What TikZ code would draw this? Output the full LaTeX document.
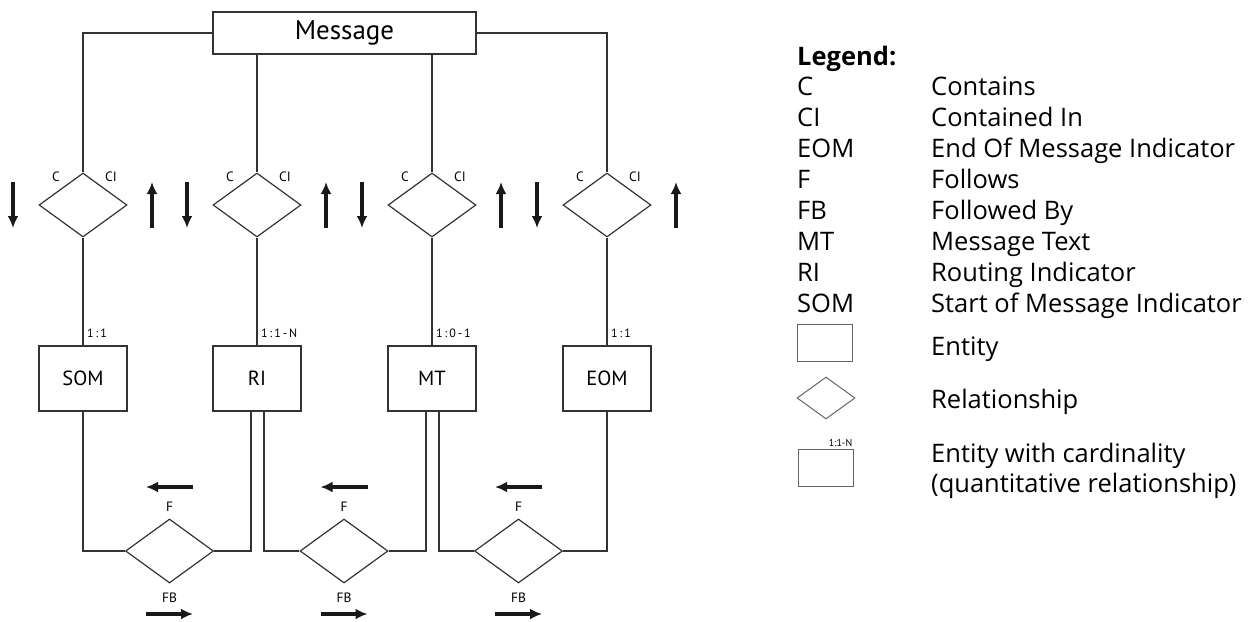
\documentclass[tikz,border=0pt]{standalone}
\usepackage{fontspec}
\setmainfont{Open Sans}
\newfontfamily\diafont{PT Sans}
\usetikzlibrary{shapes.geometric}
\usetikzlibrary{arrows.meta}

\tikzset{
    entity/.style={draw=black!80, line width=1.2pt, fill=white, minimum width=88pt, minimum height=65pt, inner sep=0pt, font=\diafont\fontsize{20.5}{24}\selectfont},
    relation/.style={draw=black!80, line width=1.2pt, diamond, minimum width=88pt, minimum height=64pt, inner sep=0pt},
    role/.style={font=\diafont\fontsize{13.5}{15}\selectfont, inner sep=0pt},
    card/.style={font=\diafont\fontsize{12}{14}\selectfont, inner sep=1pt, anchor=south west},
    bigarrow/.style={line width=3.2pt, black!90, -{Latex[length=12pt, width=11pt]}},
    key/.style={anchor=base west, inner sep=0pt, font=\fontsize{25.5}{30}\selectfont},
}

\begin{document}
\begin{tikzpicture}[x=1pt, y=-1pt]

        \useasboundingbox (0,0) rectangle (1257,621);

        \node[entity, minimum width=263pt, minimum height=42pt, font=\diafont\fontsize{27}{30}\selectfont] (msg) at (344.5,33) {Message};

        \node[entity] (som) at (83,378.5) {SOM};
        \node[entity] (ri) at (257,378.5) {RI};
        \node[entity] (mt) at (432,378.5) {MT};
        \node[entity] (eom) at (607,378.5) {EOM};

        \node[relation] (csom) at (83,205) {};
        \node[relation] (cri) at (257,205) {};
        \node[relation] (cmt) at (432,205) {};
        \node[relation] (ceom) at (607,205) {};

        \node[relation] (fsomri) at (169.5,551) {};
        \node[relation] (frimt) at (344,551) {};
        \node[relation] (fmteom) at (518.5,551) {};

        % message to the contains diamonds
        \draw[black!80, line width=1.2pt] (msg.west) -| (csom.north);
        \draw[black!80, line width=1.2pt] (msg.east) -| (ceom.north);
        \draw[black!80, line width=1.2pt] (cri.north |- msg.south) -- (cri.north);
        \draw[black!80, line width=1.2pt] (cmt.north |- msg.south) -- (cmt.north);

        \draw[black!80, line width=1.2pt] (csom.south) -- (som.north);
        \draw[black!80, line width=1.2pt] (cri.south) -- (ri.north);
        \draw[black!80, line width=1.2pt] (cmt.south) -- (mt.north);
        \draw[black!80, line width=1.2pt] (ceom.south) -- (eom.north);

        \node[card] (ksom) at ([xshift=3pt, yshift=7pt]som.north) {1\,:\,1};
        \node[card] (kri) at ([xshift=3pt, yshift=7pt]ri.north) {1\,:\,1\,-\,N};
        \node[card] (kmt) at ([xshift=3pt, yshift=7pt]mt.north) {1\,:\,0\,-\,1};
        \node[card] (keom) at ([xshift=3pt, yshift=7pt]eom.north) {1\,:\,1};

        % follows / followed by
        \draw[black!80, line width=1.2pt] (som.south) |- (fsomri.west);
        \draw[black!80, line width=1.2pt] (fsomri.east) -| ([xshift=-6pt]ri.south);
        \draw[black!80, line width=1.2pt] ([xshift=7pt]ri.south) |- (frimt.west);
        \draw[black!80, line width=1.2pt] (frimt.east) -| ([xshift=-6pt]mt.south);
        \draw[black!80, line width=1.2pt] ([xshift=7pt]mt.south) |- (fmteom.west);
        \draw[black!80, line width=1.2pt] (fmteom.east) -| (eom.south);

        \node[role] (csomc) at ([xshift=-27pt, yshift=-4pt]csom.north) {C};
        \node[role] (csomci) at ([xshift=28pt, yshift=-4pt]csom.north) {CI};
        \node[role] (cric) at ([xshift=-27pt, yshift=-4pt]cri.north) {C};
        \node[role] (crici) at ([xshift=28pt, yshift=-4pt]cri.north) {CI};
        \node[role] (cmtc) at ([xshift=-27pt, yshift=-4pt]cmt.north) {C};
        \node[role] (cmtci) at ([xshift=28pt, yshift=-4pt]cmt.north) {CI};
        \node[role] (ceomc) at ([xshift=-27pt, yshift=-4pt]ceom.north) {C};
        \node[role] (ceomci) at ([xshift=28pt, yshift=-4pt]ceom.north) {CI};

        \node[role] (fsomrif) at ([yshift=12pt]fsomri.north) {F};
        \node[role] (fsomrifb) at ([yshift=-14pt]fsomri.south) {FB};
        \node[role] (frimtf) at ([yshift=12pt]frimt.north) {F};
        \node[role] (frimtfb) at ([yshift=-14pt]frimt.south) {FB};
        \node[role] (fmteomf) at ([yshift=12pt]fmteom.north) {F};
        \node[role] (fmteomfb) at ([yshift=-14pt]fmteom.south) {FB};

        % direction arrows
        \draw[bigarrow] ([xshift=-70pt, yshift=23pt]csom.center) -- ([xshift=-70pt, yshift=-23pt]csom.center);
        \draw[bigarrow] ([xshift=69pt, yshift=-23pt]csom.center) -- ([xshift=69pt, yshift=23pt]csom.center);
        \draw[bigarrow] ([xshift=-70pt, yshift=23pt]cri.center) -- ([xshift=-70pt, yshift=-23pt]cri.center);
        \draw[bigarrow] ([xshift=69pt, yshift=-23pt]cri.center) -- ([xshift=69pt, yshift=23pt]cri.center);
        \draw[bigarrow] ([xshift=-70pt, yshift=23pt]cmt.center) -- ([xshift=-70pt, yshift=-23pt]cmt.center);
        \draw[bigarrow] ([xshift=69pt, yshift=-23pt]cmt.center) -- ([xshift=69pt, yshift=23pt]cmt.center);
        \draw[bigarrow] ([xshift=-70pt, yshift=23pt]ceom.center) -- ([xshift=-70pt, yshift=-23pt]ceom.center);
        \draw[bigarrow] ([xshift=69pt, yshift=-23pt]ceom.center) -- ([xshift=69pt, yshift=23pt]ceom.center);

        \draw[bigarrow] ([xshift=23.5pt, yshift=64pt]fsomri.center) -- ([xshift=-23.5pt, yshift=64pt]fsomri.center);
        \draw[bigarrow] ([xshift=-23.5pt, yshift=-63pt]fsomri.center) -- ([xshift=23.5pt, yshift=-63pt]fsomri.center);
        \draw[bigarrow] ([xshift=23.5pt, yshift=64pt]frimt.center) -- ([xshift=-23.5pt, yshift=64pt]frimt.center);
        \draw[bigarrow] ([xshift=-23.5pt, yshift=-63pt]frimt.center) -- ([xshift=23.5pt, yshift=-63pt]frimt.center);
        \draw[bigarrow] ([xshift=23.5pt, yshift=64pt]fmteom.center) -- ([xshift=-23.5pt, yshift=64pt]fmteom.center);
        \draw[bigarrow] ([xshift=-23.5pt, yshift=-63pt]fmteom.center) -- ([xshift=23.5pt, yshift=-63pt]fmteom.center);

        % legend
        \node[key, font=\bfseries\fontsize{25.5}{30}\selectfont] (legend) at (797,65) {Legend:};
        \node[key] (kc) at (797,95) {C};
        \node[key] (dc) at (931,95) {Contains};
        \node[key] (kci) at (797,126) {CI};
        \node[key] (dci) at (931,126) {Contained In};
        \node[key] (keomi) at (797,157) {EOM};
        \node[key] (deomi) at (931,157) {End Of Message Indicator};
        \node[key] (kf) at (797,188) {F};
        \node[key] (df) at (931,188) {Follows};
        \node[key] (kfb) at (797,219) {FB};
        \node[key] (dfb) at (931,219) {Followed By};
        \node[key] (kmti) at (797,250) {MT};
        \node[key] (dmti) at (931,250) {Message Text};
        \node[key] (krii) at (797,281) {RI};
        \node[key] (drii) at (931,281) {Routing Indicator};
        \node[key] (ksomi) at (797,312) {SOM};
        \node[key] (dsomi) at (931,312) {Start of Message Indicator};

        \node[draw=black!60, line width=1pt, minimum width=55pt, minimum height=37pt, inner sep=0pt] (lgentity) at (824.5,342.5) {};
        \node[key] (dentity) at (931,355) {Entity};
        \node[draw=black!60, line width=1pt, diamond, minimum width=58pt, minimum height=42pt, inner sep=0pt] (lgrelation) at (826,398) {};
        \node[key] (drelation) at (931,408) {Relationship};
        \node[draw=black!60, line width=1pt, minimum width=55pt, minimum height=37pt, inner sep=0pt] (lgcard) at (825.5,467.5) {};
        \node[anchor=south east, inner sep=1pt, font=\diafont\fontsize{10}{12}\selectfont] (lgcardk) at ([yshift=1pt]lgcard.north east) {1:1-N};
        \node[key] (dcard) at (931,462) {Entity with cardinality};
        \node[key] (dcardq) at (931,492) {(quantitative relationship)};

    \end{tikzpicture}
\end{document}
